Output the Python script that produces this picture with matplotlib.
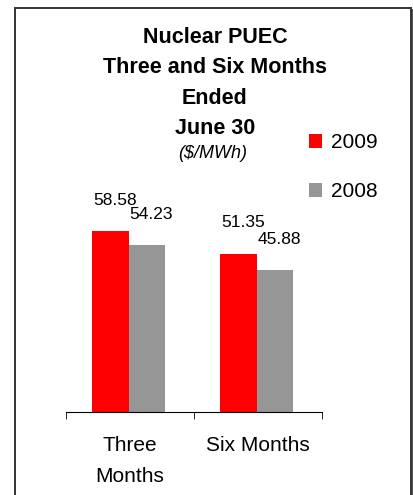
import matplotlib
matplotlib.use("Agg")
import matplotlib.pyplot as plt
from matplotlib.patches import Rectangle

plt.rcParams["font.family"] = ["Liberation Sans", "DejaVu Sans"]

categories = ["Three\nMonths", "Six Months"]
years = ["2009", "2008"]
values_2009 = [58.58, 51.35]
values_2008 = [54.23, 45.88]
colors = ["#ff0000", "#969696"]

fig = plt.figure(figsize=(4.14, 4.95), dpi=100)
W, H = 414, 495

# outer frame
fig.patches.append(Rectangle((15 / W, -0.1), 396 / W, 1.1 - 8 / H, transform=fig.transFigure,
                             fill=False, edgecolor="#333333", linewidth=1.4))
fig.add_artist(plt.Line2D([413 / W, 413 / W], [0, 1 - 10 / H], transform=fig.transFigure,
                          color="#333333", linewidth=1.2))

ax = fig.add_axes([66 / W, 83 / H, 256 / W, 216 / H])
x = list(range(len(categories)))
w = 0.29
b1 = ax.bar([i - w / 2 - 0.005 for i in x], values_2009, width=w, color=colors[0], label=years[0])
b2 = ax.bar([i + w / 2 - 0.01 for i in x], values_2008, width=w - 0.01, color=colors[1], label=years[1])

for bars in (b1, b2):
    for r in bars:
        ax.annotate(f"{r.get_height():.2f}", (r.get_x() + r.get_width() / 2, r.get_height()),
                    xytext=(3, 22), textcoords="offset points", ha="center", va="center",
                    fontsize=12.5)

ax.set_xlim(-0.5, 1.5)
ax.set_ylim(0, 70)
for s in ("left", "right", "top"):
    ax.spines[s].set_visible(False)
ax.spines["bottom"].set_color("black")
ax.set_yticks([])
ax.set_xticks(x)
ax.set_xticklabels(categories, fontsize=15, linespacing=1.8)
ax.tick_params(axis="x", which="major", length=0, pad=17)
ax.set_xticks([-0.5, 0.5, 1.5], minor=True)
ax.tick_params(axis="x", which="minor", length=5, direction="out", color="black")

fig.text(215 / W, 1 - 83 / H, "Nuclear PUEC\nThree and Six Months\nEnded\nJune 30",
         ha="center", va="center", fontsize=15.5, fontweight="bold", linespacing=1.58)
fig.text(213 / W, 1 - 154 / H, "($/MWh)", ha="center", va="center", fontsize=13, style="italic")

fig.legend(handles=[b1, b2], labels=years, loc="center left", bbox_to_anchor=(290 / W, 1 - 167 / H),
           frameon=False, fontsize=15, handlelength=0.65, handleheight=0.65, handletextpad=0.4,
           labelspacing=1.45)

fig.savefig("out.png", dpi=100)
